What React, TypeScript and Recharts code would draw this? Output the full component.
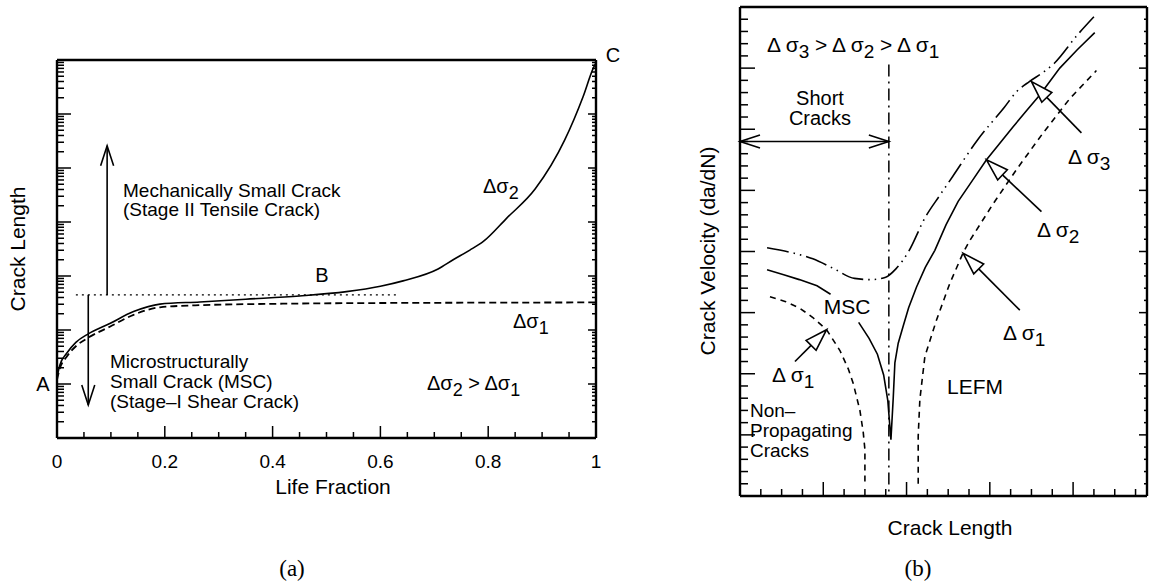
import React from "react";
import { LineChart, Line, XAxis, YAxis, ReferenceLine } from "recharts";

const SANS = "'Liberation Sans', Arial, Helvetica, sans-serif";
const SERIF = "'Liberation Serif', 'Times New Roman', serif";
const INK = "#000";

// ---------- (a) crack length vs life fraction ----------
const lifeFracHigh = [0, 0.005, 0.018, 0.035, 0.058, 0.098, 0.142, 0.191, 0.265, 0.35, 0.45, 0.537, 0.6, 0.642, 0.707, 0.735, 0.766, 0.791, 0.834, 0.887, 0.942, 0.976, 0.995, 1];
const crackLenHigh = [13, 22, 37, 59, 85, 132, 219, 302, 331, 372, 427, 513, 646, 813, 1350, 2000, 3020, 4370, 11700, 40700, 331000, 2090000, 7080000, 8900000];
const lifeFracLow = [0, 0.005, 0.018, 0.035, 0.058, 0.098, 0.142, 0.191, 0.265, 0.45, 0.6, 0.8, 1];
const crackLenLow = [12, 19, 32, 50, 72, 115, 191, 263, 288, 309, 316, 321, 324];

const lifeTicks = [0, 0.05, 0.1, 0.15, 0.2, 0.25, 0.3, 0.35, 0.4, 0.45, 0.5, 0.55, 0.6, 0.65, 0.7, 0.75, 0.8, 0.85, 0.9, 0.95, 1];
const lifeMajor = [0, 0.2, 0.4, 0.6, 0.8, 1];
const lifeTickLabels = ["0", "0.2", "0.4", "0.6", "0.8", "1"];
const decades = [1, 10, 100, 1000, 1e4, 1e5, 1e6, 1e7];
const logSteps = [2, 3, 4, 5, 6, 7, 8, 9];

// transition level (B) and the two regime arrows
const transitionLevel = 447;
const dottedSpan = [0.035, 0.633];
const msArrow = { frac: 0.093, to: 257000 };
const mscArrow = { frac: 0.058, to: 4.1 };

// ---------- (b) crack velocity vs crack length ----------
const lenS3 = [1.3, 2.5, 3.5, 4.5, 5.5, 6.3, 7.0, 7.5, 8.1, 8.9, 9.6, 10.2, 11.4, 12.7, 13.3, 13.9, 14.6, 15.1, 16.2, 17.0];
const velS3 = [20.3, 19.9, 19.4, 18.6, 17.8, 17.7, 17.9, 18.6, 20.0, 22.8, 24.6, 26.1, 29.1, 31.8, 33.1, 33.9, 34.7, 35.4, 37.7, 39.2];

const lenS2 = [1.3, 2.1, 2.85, 3.7, 4.35, 5.0, 5.7, 6.2, 6.6, 6.9, 7.1, 7.25, 7.36, 7.44, 7.6, 7.84, 8.1, 8.48, 8.9, 9.36, 9.9, 10.48, 11.2, 11.84, 12.5, 13.12, 13.8, 14.4, 15.36, 16.2, 17.04];
const velS2 = [18.5, 18.1, 17.7, 17.2, 16.5, null, 14.2, 12.9, 11.6, 9.9, 7.8, 4.6, 8.0, 10.9, 12.5, 13.9, 15.4, 17.1, 18.7, 20.1, 22.2, 24.1, 25.9, 27.5, 28.9, 30.2, 31.6, 32.8, 35.0, 36.5, 37.9];

const lenS1Short = [1.44, 2.2, 2.88, 3.5, 4.16, 4.8, 5.2, 5.44, 5.76, 5.92, 6.0, 6.0];
const velS1Short = [16.3, 15.9, 15.35, 14.6, 13.6, 11.9, 10.4, 9.2, 7.0, 5.2, 3.8, 1.0];
const lenS1Long = [8.56, 8.56, 8.64, 8.88, 9.44, 10.08, 10.72, 11.04, 12.16, 13.28, 14.56, 15.84, 17.12];
const velS1Long = [1.0, 4.9, 7.9, 11.4, 14.4, 17.4, 19.9, 20.9, 23.9, 26.7, 29.7, 32.5, 34.8];

const shortCrackLimit = 7.15;
const shortCrackLevel = 29;
const boundaryTop = 35.3;

// label arrows: [tail, tip]
const arrowS3 = [{ x: 16.4, y: 29.7 }, { x: 14.0, y: 33.9 }];
const arrowS2 = [{ x: 14.48, y: 23.26 }, { x: 11.84, y: 27.5 }];
const arrowS1Long = [{ x: 13.44, y: 15.2 }, { x: 10.72, y: 19.85 }];
const arrowS1Short = [{ x: 2.64, y: 11.0 }, { x: 4.16, y: 13.6 }];

const lenTicksB = Array.from({ length: 20 }, (_, i) => i);
const lenMajorB = [0, 4, 8, 12, 16];
const velTicks = Array.from({ length: 41 }, (_, i) => i);
const velMajor = [0, 5, 10, 15, 20, 25, 30, 35, 40];

const zip = (xs: number[], ys: (number | null)[], xk: string, yk: string) =>
  xs.map((x, i) => ({ [xk]: x, [yk]: ys[i] }));

const sigma2A = zip(lifeFracHigh, crackLenHigh, "frac", "len");
const sigma1A = zip(lifeFracLow, crackLenLow, "frac", "len");
const sigma3B = zip(lenS3, velS3, "a", "v");
const sigma2B = zip(lenS2, velS2, "a", "v");
const sigma1ShortB = zip(lenS1Short, velS1Short, "a", "v");
const sigma1LongB = zip(lenS1Long, velS1Long, "a", "v");

const lengthTicks = decades.flatMap((d) => (d === 1e7 ? [d] : [d, ...logSteps.map((s) => s * d)]));

// inward pointing tick marks, optional label under the bottom axis
type Side = "bottom" | "top" | "left" | "right";
const inTick =
  (side: Side, majors: number[], majorLen: number, minorLen: number, labels?: string[]) =>
  (props: any) => {
    const { x, y, payload } = props;
    const v = payload.value;
    const mi = majors.indexOf(v);
    const len = mi >= 0 ? majorLen : minorLen;
    let x2 = x;
    let y2 = y;
    if (side === "bottom") y2 = y - len;
    if (side === "top") y2 = y + len;
    if (side === "left") x2 = x + len;
    if (side === "right") x2 = x - len;
    const text = labels && mi >= 0 ? labels[mi] : null;
    return (
      <g>
        <line x1={x} y1={y} x2={x2} y2={y2} stroke={INK} strokeWidth={1.5} />
        {text != null && (
          <text x={x} y={y + 30} textAnchor="middle" fontSize={19} fontFamily={SANS} fill={INK}>
            {text}
          </text>
        )}
      </g>
    );
  };

const frame = { stroke: INK, strokeWidth: 2.4 };

const headPath = (tx: number, ty: number, ang: number, len: number, half: number) => {
  const bx = tx - len * Math.cos(ang);
  const by = ty - len * Math.sin(ang);
  const nx = -Math.sin(ang) * half;
  const ny = Math.cos(ang) * half;
  return { bx, by, d: `M${bx + nx},${by + ny} L${tx},${ty} L${bx - nx},${by - ny}` };
};

const arrowShape = (kind: "open" | "hollow" | "double") => (p: any) => {
  const { x1, y1, x2, y2 } = p;
  const ang = Math.atan2(y2 - y1, x2 - x1);
  if (kind === "hollow") {
    const h = headPath(x2, y2, ang, 22, 7);
    return (
      <g>
        <line x1={x1} y1={y1} x2={h.bx} y2={h.by} stroke={INK} strokeWidth={1.6} />
        <path d={h.d + " Z"} fill="#fff" stroke={INK} strokeWidth={1.6} />
      </g>
    );
  }
  const end = headPath(x2, y2, ang, 20, 6.5);
  const start = headPath(x1, y1, ang + Math.PI, 20, 6.5);
  return (
    <g fill="none" stroke={INK} strokeWidth={1.6}>
      <line x1={x1} y1={y1} x2={x2} y2={y2} />
      <path d={end.d} />
      {kind === "double" && <path d={start.d} />}
    </g>
  );
};

// axes are 1px thick so that they still render; margins are trimmed to match
function LifeChart() {
  return (
    <LineChart width={610} height={583} margin={{ top: 59, right: 13, bottom: 144, left: 56 }}>
      <XAxis type="number" dataKey="frac" domain={[0, 1]} ticks={lifeTicks} interval={0} height={1}
        tickSize={0} tickMargin={0} tickLine={false} axisLine={frame} allowDataOverflow
        tick={inTick("bottom", lifeMajor, 12, 6, lifeTickLabels)} />
      <XAxis xAxisId="top" orientation="top" type="number" domain={[0, 1]} ticks={lifeTicks} interval={0}
        height={1} tickSize={0} tickMargin={0} tickLine={false} axisLine={frame} allowDataOverflow
        tick={inTick("top", lifeMajor, 13, 7)} />
      <YAxis type="number" scale="log" domain={[1, 1e7]} ticks={lengthTicks} interval={0} width={1}
        tickSize={0} tickMargin={0} tickLine={false} axisLine={frame} allowDataOverflow
        tick={inTick("left", decades, 14, 7)} />
      <YAxis yAxisId="right" orientation="right" type="number" scale="log" domain={[1, 1e7]} ticks={lengthTicks}
        interval={0} width={1} tickSize={0} tickMargin={0} tickLine={false} axisLine={frame} allowDataOverflow
        tick={inTick("right", decades, 8, 4)} />

      <ReferenceLine segment={[{ x: dottedSpan[0], y: transitionLevel }, { x: dottedSpan[1], y: transitionLevel }]}
        stroke={INK} strokeWidth={1.4} strokeDasharray="2 4" />
      <ReferenceLine segment={[{ x: msArrow.frac, y: transitionLevel }, { x: msArrow.frac, y: msArrow.to }]}
        shape={arrowShape("open")} />
      <ReferenceLine segment={[{ x: mscArrow.frac, y: transitionLevel }, { x: mscArrow.frac, y: mscArrow.to }]}
        shape={arrowShape("open")} />

      <Line data={sigma1A} dataKey="len" type="monotone" stroke={INK} strokeWidth={1.8}
        strokeDasharray="7 4" dot={false} isAnimationActive={false} />
      <Line data={sigma2A} dataKey="len" type="monotone" stroke={INK} strokeWidth={1.6}
        dot={false} isAnimationActive={false} />
    </LineChart>
  );
}

function VelocityChart() {
  return (
    <LineChart width={541} height={583} margin={{ top: 6, right: 3, bottom: 86, left: 129 }}>
      <XAxis type="number" dataKey="a" domain={[0, 19.55]} ticks={lenTicksB} interval={0} height={1}
        tickSize={0} tickMargin={0} tickLine={false} axisLine={frame} allowDataOverflow
        tick={inTick("bottom", lenMajorB, 14, 7)} />
      <XAxis xAxisId="top" orientation="top" type="number" domain={[0, 19.55]} ticks={lenTicksB} interval={0}
        height={1} tickSize={0} tickMargin={0} tickLine={false} axisLine={frame} allowDataOverflow
        tick={inTick("top", lenMajorB, 12, 7)} />
      <YAxis type="number" domain={[0, 40]} ticks={velTicks} interval={0} width={1}
        tickSize={0} tickMargin={0} tickLine={false} axisLine={frame} allowDataOverflow
        tick={inTick("left", velMajor, 15, 8)} />
      <YAxis yAxisId="right" orientation="right" type="number" domain={[0, 40]} ticks={velTicks} interval={0}
        width={1} tickSize={0} tickMargin={0} tickLine={false} axisLine={frame} allowDataOverflow
        tick={inTick("right", velMajor, 8, 3)} />

      <ReferenceLine segment={[{ x: shortCrackLimit, y: boundaryTop }, { x: shortCrackLimit, y: 0 }]}
        stroke={INK} strokeWidth={1.5} strokeDasharray="12 5 2 5" />
      <ReferenceLine segment={[{ x: 0, y: shortCrackLevel }, { x: shortCrackLimit, y: shortCrackLevel }]}
        shape={arrowShape("double")} />

      <Line data={sigma3B} dataKey="v" type="monotone" stroke={INK} strokeWidth={1.6}
        strokeDasharray="22 5 1.5 5 1.5 5" dot={false} isAnimationActive={false} />
      <Line data={sigma2B} dataKey="v" type="linear" stroke={INK} strokeWidth={1.6}
        dot={false} isAnimationActive={false} />
      <Line data={sigma1ShortB} dataKey="v" type="linear" stroke={INK} strokeWidth={1.6}
        strokeDasharray="6 5" dot={false} isAnimationActive={false} />
      <Line data={sigma1LongB} dataKey="v" type="linear" stroke={INK} strokeWidth={1.6}
        strokeDasharray="6 5" dot={false} isAnimationActive={false} />

      <ReferenceLine segment={arrowS3} shape={arrowShape("hollow")} />
      <ReferenceLine segment={arrowS2} shape={arrowShape("hollow")} />
      <ReferenceLine segment={arrowS1Long} shape={arrowShape("hollow")} />
      <ReferenceLine segment={arrowS1Short} shape={arrowShape("hollow")} />
    </LineChart>
  );
}

// text with lowered subscripts: [text, isSubscript]
type Piece = [string, boolean?];
function Note({ x, y, parts, size = 20, anchor = "start" }: { x: number; y: number; parts: Piece[]; size?: number; anchor?: string }) {
  let sub = false;
  return (
    <text x={x} y={y} fontSize={size} textAnchor={anchor as any} fontFamily={SANS} fill={INK}>
      {parts.map(([t, s], i) => {
        const dy = s && !sub ? 6 : !s && sub ? -6 : 0;
        sub = !!s;
        return (
          <tspan key={i} dy={dy || undefined} fontSize={s ? size - 2 : undefined}>
            {t}
          </tspan>
        );
      })}
    </text>
  );
}

function Annotations() {
  return (
    <svg width={1151} height={583} style={{ position: "absolute", left: 0, top: 0, pointerEvents: "none" }}>
      {/* (a) */}
      <text transform="translate(25,249) rotate(-90)" textAnchor="middle" fontSize={21} fontFamily={SANS}>Crack Length</text>
      <Note x={333} y={494} parts={[["Life Fraction"]]} size={21} anchor="middle" />
      <text x={292} y={576} textAnchor="middle" fontSize={23} fontFamily={SERIF}>(a)</text>
      <Note x={43} y={391} parts={[["A"]]} anchor="middle" />
      <Note x={322} y={282} parts={[["B"]]} anchor="middle" />
      <Note x={613} y={62} parts={[["C"]]} anchor="middle" />
      <Note x={483} y={193} parts={[["Δσ"], ["2", true]]} />
      <Note x={513} y={328} parts={[["Δσ"], ["1", true]]} />
      <Note x={427} y={390} parts={[["Δσ"], ["2", true], [" > Δσ"], ["1", true]]} />
      <Note x={123} y={197} parts={[["Mechanically Small Crack"]]} size={19} />
      <Note x={123} y={216} parts={[["(Stage II Tensile Crack)"]]} size={19} />
      <Note x={110} y={368} parts={[["Microstructurally"]]} size={19} />
      <Note x={110} y={388} parts={[["Small Crack (MSC)"]]} size={19} />
      <Note x={110} y={408} parts={[["(Stage–I Shear Crack)"]]} size={19} />

      {/* (b) */}
      <text transform="translate(715,251) rotate(-90)" textAnchor="middle" fontSize={21} fontFamily={SANS}>Crack Velocity (da/dN)</text>
      <Note x={767} y={52} parts={[["Δ σ"], ["3", true], [" > Δ σ"], ["2", true], [" > Δ σ"], ["1", true]]} size={21} />
      <Note x={820} y={105} parts={[["Short"]]} anchor="middle" />
      <Note x={820} y={125} parts={[["Cracks"]]} anchor="middle" />
      <Note x={847} y={314} parts={[["MSC"]]} size={21} anchor="middle" />
      <Note x={772} y={382} parts={[["Δ σ"], ["1", true]]} size={21} />
      <Note x={750} y={417} parts={[["Non–"]]} size={19} />
      <Note x={750} y={437} parts={[["Propagating"]]} size={19} />
      <Note x={750} y={457} parts={[["Cracks"]]} size={19} />
      <Note x={975} y={394} parts={[["LEFM"]]} size={21} anchor="middle" />
      <Note x={1003} y={340} parts={[["Δ σ"], ["1", true]]} size={21} />
      <Note x={1037} y={237} parts={[["Δ σ"], ["2", true]]} size={21} />
      <Note x={1068} y={164} parts={[["Δ σ"], ["3", true]]} size={21} />
      <Note x={950} y={535} parts={[["Crack Length"]]} size={21} anchor="middle" />
      <text x={918} y={576} textAnchor="middle" fontSize={23} fontFamily={SERIF}>(b)</text>
    </svg>
  );
}

export default function App() {
  return (
    <div style={{ position: "absolute", left: 0, top: 0, width: 1151, height: 583, overflow: "hidden", background: "#fff" }}>
      <div style={{ position: "absolute", left: 0, top: 0 }}>
        <LifeChart />
      </div>
      <div style={{ position: "absolute", left: 610, top: 0 }}>
        <VelocityChart />
      </div>
      <Annotations />
    </div>
  );
}
